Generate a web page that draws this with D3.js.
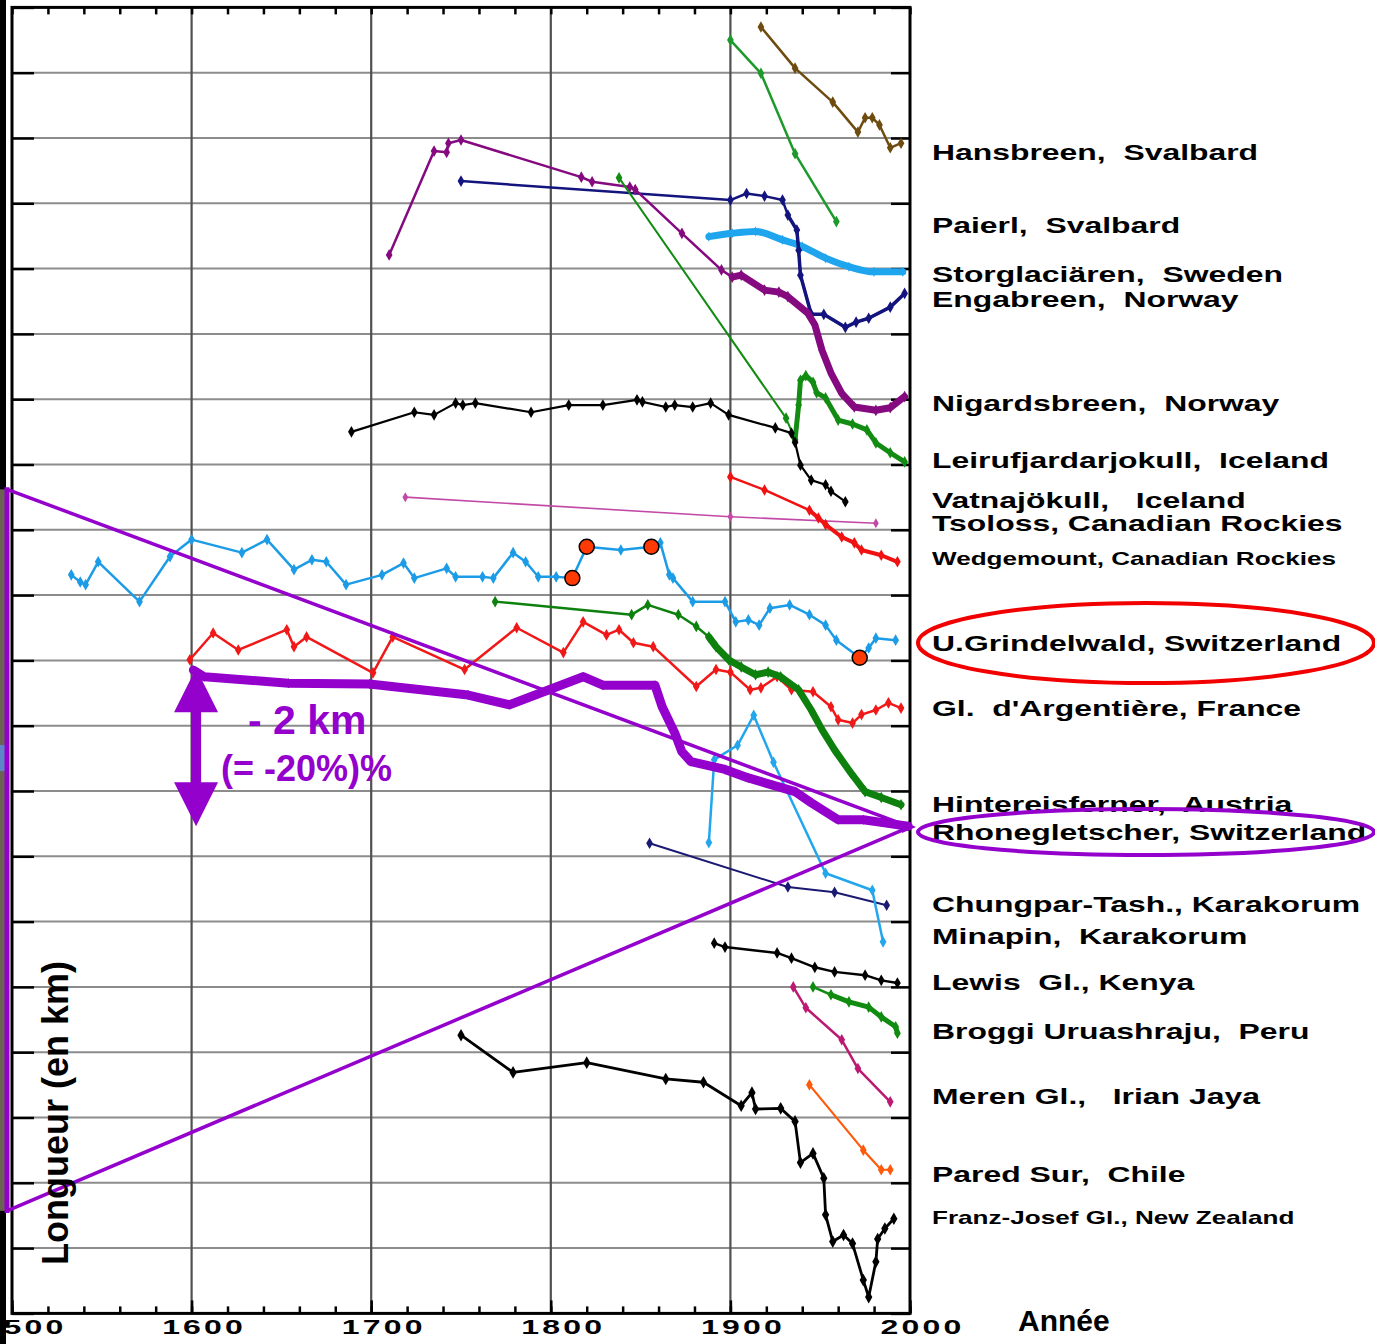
<!DOCTYPE html>
<html><head><meta charset="utf-8">
<script src="https://cdn.jsdelivr.net/npm/d3@7"></script>
<style>
body{margin:0;background:#fff}
svg text{font-family:"Liberation Sans",Arial,Helvetica,sans-serif;font-weight:bold}
</style>
</head><body>
<svg id="chart" width="1375" height="1344"></svg>
<script>
// ---------- DATA (year, length in km, stacked offset) ----------
const centuryTicks = [1500, 1600, 1700, 1800, 1900, 2000];
const minorTicks = d3.range(1500, 2001, 20);
const kmTicks = d3.range(0, 21, 1);

const hansbreen = [[1917,19.70],[1936,19.07],[1957,18.55],[1971,18.09],[1975,18.31],[1979,18.31],[1983,18.20],[1989,17.85],[1995,17.92]];
const paierl = [[1900,19.50],[1917,18.99],[1936,17.76],[1959,16.72]];
const storglaciaren = [[1888,16.49],[1901,16.54],[1914,16.57],[1929,16.44],[1940,16.34],[1953,16.16],[1966,16.03],[1980,15.95],[1996,15.95]];
const engabreen = [[1750,17.34],[1900,17.05],[1909,17.15],[1919,17.11],[1929,17.05],[1932,16.82],[1937,16.59],[1938,16.28],[1939,15.90],[1945,15.30],[1952,15.30],[1964,15.10],[1970,15.18],[1977,15.24],[1989,15.41],[1997,15.62]];
const nigardsbreen = [[1710,16.21],[1735,17.80],[1742,17.78],[1743,17.92],[1750,17.97],[1817,17.40],[1823,17.33],[1844,17.25],[1847,17.21],[1873,16.54],[1895,15.98],[1901,15.87],[1906,15.90],[1919,15.67],[1927,15.64],[1932,15.57],[1943,15.32],[1947,15.14],[1951,14.75],[1956,14.40],[1962,14.09],[1969,13.88],[1981,13.83],[1989,13.87],[1997,14.04]];
const leirufjardarjokull = [[1838,17.39],[1931,13.71],[1936,13.38],[1938,13.91],[1939,14.29],[1942,14.36],[1946,14.26],[1948,14.10],[1953,14.02],[1960,13.68],[1968,13.62],[1976,13.53],[1981,13.33],[1989,13.18],[1997,13.04]];
const vatnajokull = [[1689,13.50],[1724,13.80],[1735,13.76],[1747,13.94],[1751,13.91],[1758,13.94],[1789,13.80],[1810,13.91],[1829,13.91],[1848,13.99],[1851,13.96],[1864,13.88],[1869,13.91],[1879,13.88],[1889,13.94],[1899,13.76],[1925,13.56],[1934,13.48],[1936,13.34],[1939,12.99],[1945,12.76],[1953,12.69],[1956,12.59],[1964,12.43]];
const tsoloss = [[1719,12.50],[1900,12.20],[1981,12.10]];
const wedgemount = [[1900,12.81],[1919,12.61],[1944,12.30],[1949,12.18],[1953,12.08],[1962,11.89],[1969,11.80],[1973,11.69],[1984,11.61],[1993,11.51]];
const grindelwald = [[1533,11.31],[1538,11.20],[1541,11.16],[1548,11.51],[1571,10.90],[1588,11.59],[1600,11.85],[1628,11.65],[1642,11.85],[1657,11.39],[1667,11.54],[1675,11.51],[1686,11.16],[1706,11.31],[1718,11.49],[1724,11.26],[1742,11.41],[1747,11.28],[1762,11.28],[1768,11.26],[1779,11.65],[1786,11.51],[1793,11.28],[1803,11.28],[1812,11.26],[1820,11.74],[1839,11.69],[1856,11.74],[1861,11.80],[1866,11.31],[1868,11.26],[1879,10.90],[1897,10.90],[1903,10.59],[1910,10.62],[1916,10.54],[1922,10.80],[1933,10.85],[1944,10.70],[1953,10.54],[1959,10.31],[1972,10.04],[1977,10.19],[1981,10.34],[1992,10.31]];
const grindelwaldMarked = [[1812,11.26],[1820,11.74],[1856,11.74],[1972,10.04]];
const argentiere = [[1599,10.01],[1612,10.42],[1626,10.16],[1653,10.47],[1657,10.21],[1664,10.36],[1701,9.81],[1712,10.36],[1752,9.86],[1781,10.50],[1807,10.12],[1818,10.59],[1831,10.39],[1838,10.47],[1846,10.27],[1857,10.21],[1881,9.60],[1892,9.86],[1900,9.82],[1911,9.55],[1917,9.58],[1926,9.75],[1934,9.55],[1946,9.52],[1956,9.29],[1960,9.09],[1968,9.04],[1973,9.17],[1981,9.24],[1988,9.35],[1995,9.27]];
const hintereisferner = [[1769,10.90],[1845,10.70],[1854,10.85],[1871,10.70],[1881,10.52],[1888,10.36],[1892,10.21],[1899,10.01],[1906,9.90],[1914,9.78],[1921,9.82],[1928,9.75],[1938,9.55],[1945,9.24],[1951,8.94],[1958,8.63],[1967,8.28],[1975,7.99],[1984,7.90],[1995,7.79]];
const rhonegletscher = [[1601,9.85],[1607,9.75],[1654,9.65],[1699,9.64],[1754,9.47],[1777,9.32],[1799,9.55],[1818,9.75],[1829,9.62],[1858,9.62],[1862,9.29],[1869,8.89],[1873,8.60],[1878,8.45],[1897,8.33],[1910,8.20],[1936,7.99],[1945,7.82],[1960,7.56],[1974,7.56],[1984,7.52],[1999,7.46]];
const chungparTash = [[1855,7.20],[1932,6.53],[1958,6.45],[1987,6.25]];
const minapin = [[1888,7.21],[1891,8.48],[1904,8.70],[1913,9.16],[1924,8.44],[1953,6.74],[1979,6.48],[1985,5.69]];
const lewis = [[1891,5.67],[1897,5.61],[1926,5.52],[1934,5.44],[1947,5.30],[1958,5.23],[1975,5.18],[1984,5.10],[1993,5.06]];
const broggi = [[1946,5.00],[1956,4.88],[1966,4.77],[1977,4.69],[1984,4.54],[1992,4.39],[1993,4.29]];
const meren = [[1935,5.00],[1942,4.68],[1962,4.19],[1971,3.75],[1989,3.24]];
const paredSur = [[1944,3.50],[1974,2.50],[1984,2.20],[1989,2.20]];
const franzJosef = [[1750,4.26],[1779,3.69],[1820,3.84],[1864,3.59],[1885,3.54],[1906,3.18],[1912,3.38],[1914,3.13],[1928,3.14],[1936,2.94],[1939,2.31],[1946,2.45],[1952,2.07],[1953,1.51],[1957,1.10],[1963,1.20],[1968,1.07],[1974,0.51],[1977,0.25],[1981,0.79],[1982,1.14],[1986,1.30],[1991,1.45]];

const labelNames = ["Hansbreen,  Svalbard","Paierl,  Svalbard","Storglaciären,  Sweden","Engabreen,  Norway","Nigardsbreen,  Norway","Leirufjardarjokull,  Iceland","Vatnajökull,   Iceland","Tsoloss, Canadian Rockies","Wedgemount, Canadian Rockies","U.Grindelwald, Switzerland","Gl.  d'Argentière, France","Hintereisferner,  Austria","Rhonegletscher, Switzerland","Chungpar-Tash., Karakorum","Minapin,  Karakorum","Lewis  Gl., Kenya","Broggi Uruashraju,  Peru","Meren Gl.,   Irian Jaya","Pared Sur,  Chile","Franz-Josef Gl., New Zealand"];
const labelKm = [17.79,16.67,15.92,15.53,13.94,13.07,12.46,12.11,11.59,10.27,9.27,7.80,7.37,6.27,5.78,5.08,4.33,3.33,2.14,1.49];
const smallLabels = ["Wedgemount, Canadian Rockies","Franz-Josef Gl., New Zealand"];

// annotation geometry in data units
const wedgeApex = [2000, 7.45];
const wedgeTop = [1497, 12.62];
const wedgeBottom = [1497, 1.57];
const arrowYear = 1602.5;
const arrowKm = [9.88, 7.46];

// ---------- STYLES ----------
const series = [
  {d: hansbreen, c: "#6e4b0e", w: 2.5, r: 3.5},
  {d: paierl, c: "#1d9a2b", w: 2.5, r: 3.5},
  {d: storglaciaren, c: "#1ea5ee", w: 7, r: 3, curve: true},
  {d: engabreen, c: "#14147e", w: 2.5, r: 3.5, thickFrom: 1930, tw: 3.5},
  {d: nigardsbreen, c: "#850a80", w: 2.5, r: 3.5, thickFrom: 1900, tw: 7},
  {d: leirufjardarjokull, c: "#128c12", w: 2, r: 3.5, thickFrom: 1936, tw: 5},
  {d: vatnajokull, c: "#000000", w: 2.2, r: 3.5},
  {d: tsoloss, c: "#c24aa6", w: 1.6, r: 3},
  {d: wedgemount, c: "#f01212", w: 2.5, r: 3.5, thickFrom: 1944, tw: 4},
  {d: grindelwald, c: "#1c9ce6", w: 2.5, r: 3.5},
  {d: argentiere, c: "#f01818", w: 2.5, r: 3.5},
  {d: hintereisferner, c: "#0d800d", w: 2.5, r: 3.5, thickFrom: 1888, tw: 7},
  {d: rhonegletscher, c: "#000000", w: 2, r: 3},
  {d: chungparTash, c: "#1a1a72", w: 2, r: 3.5},
  {d: minapin, c: "#22a6ee", w: 2.5, r: 3.5},
  {d: lewis, c: "#000000", w: 2.5, r: 3.5},
  {d: broggi, c: "#108c10", w: 2.5, r: 3.5, thickFrom: 1956, tw: 5},
  {d: meren, c: "#bc1a72", w: 2.5, r: 3.5},
  {d: paredSur, c: "#ff5a0a", w: 2.2, r: 3.5},
  {d: franzJosef, c: "#000000", w: 2.8, r: 3.8}
];
const PURPLE = "#9400cc";

// ---------- DRAW ----------
const svg = d3.select("#chart");
const L = 12, R = 910, T = 7.4, B = 1313.4;
const x = d3.scaleLinear().domain([1500, 2000]).range([L, R]);
const y = d3.scaleLinear().domain([0, 20]).range([B, T]);

// left photo strip
svg.append("rect").attr("x", 0).attr("y", 0).attr("width", 6).attr("height", 1344).attr("fill", "#000");
svg.append("rect").attr("x", 0).attr("y", y(wedgeTop[1])).attr("width", 5).attr("height", y(wedgeBottom[1]) - y(wedgeTop[1])).attr("fill", "#6a6352");
svg.append("rect").attr("x", 0).attr("y", 745).attr("width", 5).attr("height", 26).attr("fill", "#5c86c8");

// grid
svg.append("g").selectAll("line").data(kmTicks.slice(1, -1)).join("line")
  .attr("x1", L).attr("x2", R).attr("y1", d => y(d)).attr("y2", d => y(d))
  .attr("stroke", "#8c8c8c").attr("stroke-width", 2);
svg.append("g").selectAll("line").data(centuryTicks.slice(1, -1)).join("line")
  .attr("x1", d => x(d)).attr("x2", d => x(d)).attr("y1", T).attr("y2", B)
  .attr("stroke", "#505050").attr("stroke-width", 2.2);

// axes ticks
function styleAxis(g){ g.select(".domain").remove(); g.selectAll(".tick line").attr("stroke", "#000").attr("stroke-width", 2.5); }
svg.append("g").attr("transform", `translate(0,${B})`).call(d3.axisBottom(x).tickValues(minorTicks).tickSize(-7).tickFormat("")).call(styleAxis);
svg.append("g").attr("transform", `translate(0,${T})`).call(d3.axisTop(x).tickValues(minorTicks).tickSize(-7).tickFormat("")).call(styleAxis);
svg.append("g").attr("transform", `translate(${L},0)`).call(d3.axisLeft(y).tickValues(kmTicks).tickSize(-22).tickFormat("")).call(styleAxis);
svg.append("g").attr("transform", `translate(${R},0)`).call(d3.axisRight(y).tickValues(kmTicks).tickSize(-19).tickFormat("")).call(styleAxis);
const xAx = svg.append("g").attr("transform", `translate(0,${B})`)
  .call(d3.axisBottom(x).tickValues(centuryTicks).tickSize(-13).tickPadding(6).tickFormat(d3.format("d")));
styleAxis(xAx);
xAx.selectAll(".tick text").attr("fill", "#000").attr("font-size", 20)
  .style("font-family", '"Liberation Sans",Arial,sans-serif').style("font-weight", "bold")
  .attr("letter-spacing", 2).attr("transform", "translate(12,0) scale(1.6,1)");

// frame
svg.append("rect").attr("x", L).attr("y", T).attr("width", R - L).attr("height", B - T)
  .attr("fill", "none").attr("stroke", "#000").attr("stroke-width", 3);

// series
const line = d3.line().x(d => x(d[0])).y(d => y(d[1]));
const smooth = d3.line().x(d => x(d[0])).y(d => y(d[1])).curve(d3.curveMonotoneX);
const sg = svg.append("g");
series.forEach(s => {
  const g = sg.append("g");
  g.append("path").attr("d", (s.curve ? smooth : line)(s.d)).attr("fill", "none")
    .attr("stroke", s.c).attr("stroke-width", s.w).attr("stroke-linejoin", "round").attr("stroke-linecap", "round");
  if (s.thickFrom) {
    const part = s.d.filter(p => p[0] >= s.thickFrom);
    g.append("path").attr("d", line(part)).attr("fill", "none")
      .attr("stroke", s.c).attr("stroke-width", s.tw).attr("stroke-linejoin", "round").attr("stroke-linecap", "round");
  }
  g.selectAll("path.m").data(s.d).join("path").attr("class", "m")
    .attr("d", d3.symbol(d3.symbolDiamond, s.r * s.r * 3.2)())
    .attr("transform", d => `translate(${x(d[0])},${y(d[1])})`)
    .attr("fill", s.c);
});

// Rhonegletscher purple highlight
svg.append("path").attr("d", line(rhonegletscher)).attr("fill", "none")
  .attr("stroke", PURPLE).attr("stroke-width", 9).attr("stroke-linejoin", "round").attr("stroke-linecap", "round");

// wedge lines
svg.append("line").attr("x1", 7).attr("y1", y(wedgeTop[1])).attr("x2", x(wedgeApex[0])).attr("y2", y(wedgeApex[1]))
  .attr("stroke", PURPLE).attr("stroke-width", 3.5);
svg.append("line").attr("x1", 7).attr("y1", y(wedgeBottom[1])).attr("x2", x(wedgeApex[0])).attr("y2", y(wedgeApex[1]))
  .attr("stroke", PURPLE).attr("stroke-width", 3.5);
svg.append("line").attr("x1", 7).attr("x2", 7).attr("y1", y(wedgeTop[1]) - 2).attr("y2", y(wedgeBottom[1]) + 2)
  .attr("stroke", PURPLE).attr("stroke-width", 5);
svg.append("path").attr("d", `M${x(wedgeApex[0]) - 8},${y(wedgeApex[1]) - 6} L${x(wedgeApex[0]) + 6},${y(wedgeApex[1])} L${x(wedgeApex[0]) - 8},${y(wedgeApex[1]) + 6}Z`).attr("fill", PURPLE);

// double arrow
const ax = x(arrowYear), aTop = y(arrowKm[0]), aBot = y(arrowKm[1]);
svg.append("line").attr("x1", ax).attr("x2", ax).attr("y1", aTop + 30).attr("y2", aBot - 30)
  .attr("stroke", PURPLE).attr("stroke-width", 10);
svg.append("path").attr("d", `M${ax},${aTop} L${ax + 22},${aTop + 44} L${ax - 22},${aTop + 44}Z`).attr("fill", PURPLE);
svg.append("path").attr("d", `M${ax},${aBot} L${ax + 22},${aBot - 44} L${ax - 22},${aBot - 44}Z`).attr("fill", PURPLE);
svg.append("text").attr("x", 248).attr("y", 734).attr("font-size", 41).attr("fill", PURPLE).text("- 2 km");
svg.append("text").attr("x", 221).attr("y", 781).attr("font-size", 36).attr("fill", PURPLE).text("(= -20%)%");

// labels
svg.append("g").selectAll("text").data(labelNames).join("text")
  .attr("transform", (d, i) => `translate(932,${y(labelKm[i]) + 8}) scale(1.45,1)`)
  .attr("font-size", d => smallLabels.includes(d) ? 18 : 22)
  .attr("fill", "#000").style("white-space", "pre").attr("xml:space", "preserve")
  .text(d => d);

// ellipses
svg.append("ellipse").attr("cx", 1146).attr("cy", 643).attr("rx", 228).attr("ry", 40)
  .attr("fill", "none").attr("stroke", "#f20000").attr("stroke-width", 4);
svg.append("ellipse").attr("cx", 1146).attr("cy", 832).attr("rx", 228).attr("ry", 23)
  .attr("fill", "none").attr("stroke", PURPLE).attr("stroke-width", 4);

// marked Grindelwald points
svg.append("g").selectAll("circle").data(grindelwaldMarked).join("circle")
  .attr("cx", d => x(d[0])).attr("cy", d => y(d[1])).attr("r", 7.5)
  .attr("fill", "#ff3a05").attr("stroke", "#000").attr("stroke-width", 1.5);

// axis titles
svg.append("text").attr("x", 1018).attr("y", 1331).attr("font-size", 30).attr("fill", "#000").text("Année");
svg.append("text").attr("transform", "translate(68,1113) rotate(-90)").attr("text-anchor", "middle")
  .attr("font-size", 36).attr("fill", "#000").text("Longueur (en km)");
</script>
</body></html>
